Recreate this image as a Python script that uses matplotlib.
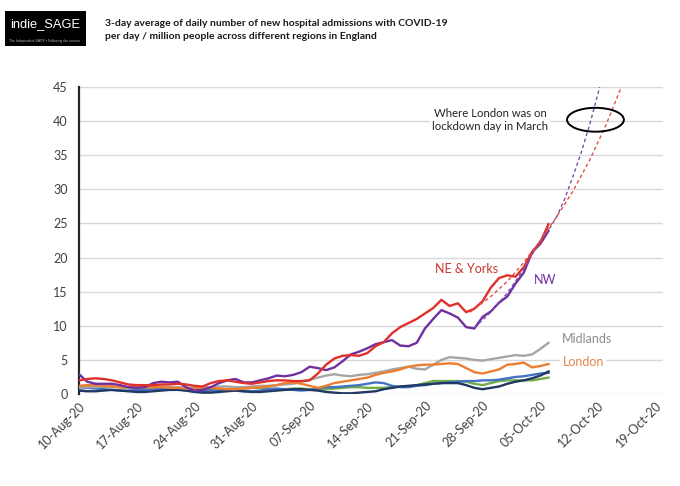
import numpy as np
import matplotlib
matplotlib.use('Agg')
import matplotlib.pyplot as plt
import matplotlib.dates as mdates
from matplotlib.patches import Ellipse, Rectangle

# daily values, 10-Aug-20 .. 06-Oct-20
start = np.datetime64('2020-08-10')

ne_yorks = [2.0, 2.2, 2.3, 2.2, 2.0, 1.7, 1.4, 1.3, 1.3, 1.3, 1.4, 1.4, 1.5, 1.4, 1.2, 1.1,
            1.6, 1.9, 2.0, 1.8, 1.6, 1.5, 1.7, 1.9, 2.0, 2.0, 1.9, 1.9, 2.0, 3.0, 4.3, 5.2,
            5.6, 5.7, 5.6, 6.0, 7.0, 7.6, 8.9, 9.8, 10.4, 11.0, 11.8, 12.6, 13.8, 12.9, 13.3,
            12.0, 12.5, 13.6, 15.6, 17.0, 17.4, 17.2, 18.6, 20.8, 22.2, 24.9]
nw = [2.9, 1.8, 1.5, 1.5, 1.5, 1.3, 1.0, 0.9, 1.0, 1.6, 1.8, 1.7, 1.8, 1.0, 0.5, 0.6,
      1.0, 1.6, 2.0, 2.2, 1.7, 1.7, 2.0, 2.3, 2.7, 2.6, 2.8, 3.2, 4.0, 3.8, 3.5, 3.9,
      4.8, 5.8, 6.2, 6.7, 7.3, 7.6, 7.9, 7.1, 7.0, 7.5, 9.6, 11.0, 12.3, 11.8, 11.2,
      9.8, 9.6, 11.3, 12.1, 13.4, 14.3, 16.2, 17.8, 20.8, 22.0, 23.9]
midlands = [0.9, 1.0, 1.0, 1.1, 1.0, 1.0, 0.9, 0.9, 1.0, 1.0, 1.1, 1.0, 1.0, 0.9, 0.9, 1.0,
            1.0, 1.1, 1.1, 1.0, 1.0, 1.1, 1.2, 1.2, 1.3, 1.4, 1.5, 1.8, 2.1, 2.4, 2.7, 2.9,
            2.7, 2.6, 2.8, 2.9, 3.1, 3.3, 3.6, 3.8, 4.0, 3.7, 3.6, 4.3, 5.0, 5.4, 5.3,
            5.2, 5.0, 4.9, 5.1, 5.3, 5.5, 5.7, 5.6, 5.8, 6.6, 7.5]
london = [1.2, 1.3, 1.3, 1.2, 1.1, 1.0, 1.0, 1.1, 1.0, 1.0, 1.0, 0.9, 0.9, 0.8, 0.8, 0.8,
          0.9, 0.8, 0.7, 0.7, 0.8, 0.9, 1.0, 1.1, 1.3, 1.6, 1.7, 1.5, 1.2, 0.9, 1.2, 1.6,
          1.8, 2.0, 2.2, 2.4, 2.8, 3.1, 3.3, 3.6, 4.0, 4.2, 4.3, 4.3, 4.4, 4.5, 4.4,
          3.8, 3.2, 3.0, 3.3, 3.6, 4.3, 4.4, 4.6, 3.9, 4.1, 4.4]
east = [0.8, 0.9, 0.8, 0.7, 0.6, 0.5, 0.5, 0.6, 0.6, 0.7, 0.7, 0.8, 0.7, 0.5, 0.4, 0.4,
        0.5, 0.5, 0.6, 0.5, 0.4, 0.4, 0.5, 0.7, 0.8, 0.7, 0.6, 0.5, 0.6, 0.8, 1.0, 1.0,
        1.1, 1.2, 1.3, 1.5, 1.7, 1.6, 1.2, 1.0, 1.0, 1.2, 1.3, 1.5, 1.6, 1.7, 1.8,
        1.9, 1.9, 2.0, 2.0, 2.1, 2.3, 2.5, 2.6, 2.8, 3.0, 3.1]
south_west = [1.0, 1.0, 0.9, 1.0, 1.1, 1.0, 0.9, 0.8, 0.8, 0.7, 0.8, 0.8, 0.9, 0.9, 0.8, 0.7,
              0.7, 0.6, 0.7, 0.8, 0.8, 0.9, 0.9, 0.8, 0.7, 0.7, 0.8, 0.8, 0.7, 0.6, 0.7, 0.8,
              0.9, 1.0, 1.0, 0.9, 0.9, 0.9, 1.0, 1.1, 1.1, 1.3, 1.6, 1.9, 1.9, 1.9, 1.9,
              1.8, 1.5, 1.3, 1.6, 1.9, 2.0, 2.0, 2.0, 2.0, 2.2, 2.4]
south_east = [0.5, 0.4, 0.4, 0.5, 0.6, 0.5, 0.4, 0.3, 0.3, 0.4, 0.5, 0.6, 0.6, 0.5, 0.3, 0.2,
              0.2, 0.3, 0.4, 0.5, 0.4, 0.3, 0.3, 0.4, 0.5, 0.6, 0.7, 0.7, 0.6, 0.5, 0.3, 0.2,
              0.1, 0.1, 0.2, 0.3, 0.4, 0.7, 0.9, 1.1, 1.2, 1.3, 1.4, 1.5, 1.6, 1.6, 1.6,
              1.3, 0.9, 0.7, 0.9, 1.1, 1.5, 1.8, 2.0, 2.3, 2.7, 3.3]

# trend lines (day offset, value)
nw_trend_day = [48, 50, 52, 54, 56, 57, 58, 59, 60, 61, 62, 63, 63.6]
nw_trend_val = [9.7, 12.0, 14.8, 18.3, 22.5, 24.0, 26.0, 28.7, 32.0, 35.5, 39.5, 44.0, 47.0]
ne_trend_day = [47.5, 50, 52, 54, 56, 58, 60, 62, 64, 66]
ne_trend_val = [12.0, 14.3, 16.5, 19.3, 22.5, 26.0, 29.8, 34.3, 39.5, 45.5]

tick_days = np.arange(0, 71, 7)

dates = start + np.arange(len(ne_yorks)).astype('timedelta64[D]')
x = mdates.date2num(dates.astype('datetime64[s]').astype(object))
x0 = x[0]

plt.rcParams['font.family'] = ['Lato', 'DejaVu Sans']

fig = plt.figure(figsize=(6.8, 4.86), dpi=100)
ax = fig.add_axes([79 / 680, 1 - 394 / 486, (663 - 79) / 680, (394 - 87) / 486])

series = [
    (south_west, '#70AD47'),
    (east, '#4472C4'),
    (south_east, '#203864'),
    (midlands, '#A5A5A5'),
    (london, '#ED7D31'),
    (nw, '#7030A0'),
    (ne_yorks, '#E0302A'),
]
for vals, col in series:
    ax.plot(x, vals, color=col, lw=1.7, solid_joinstyle='round', zorder=3)

ax.plot(x0 + np.array(nw_trend_day), nw_trend_val, color='#7B4FA8', lw=1.0,
        dashes=(2.5, 2), zorder=4)
ax.plot(x0 + np.array(ne_trend_day), ne_trend_val, color='#E0504A', lw=1.0,
        dashes=(2.5, 2), zorder=4)

ax.set_ylim(0, 45)
ax.set_xlim(x0, x0 + 70.9)
ax.set_yticks(range(0, 46, 5))
ax.set_xticks(x0 + tick_days)
ax.xaxis.set_major_formatter(mdates.DateFormatter('%d-%b-%y'))
ax.grid(axis='y', color='#D9D9D9', lw=1.0, zorder=0)
ax.set_axisbelow(True)
for s in ['top', 'right', 'bottom']:
    ax.spines[s].set_visible(False)
ax.spines['left'].set_color('#262626')
ax.spines['left'].set_linewidth(1.6)
ax.tick_params(axis='y', length=0, labelsize=9, colors='#404040', pad=8)
ax.tick_params(axis='x', length=0, labelsize=9, colors='#404040', pad=4)
plt.setp(ax.get_xticklabels(), rotation=45, ha='right', rotation_mode='anchor')

white = dict(facecolor='white', edgecolor='none', pad=1.5)
ax.text(x0 + 49.9, 40.2, 'Where London was on\nlockdown day in March', fontsize=8.2,
        color='#262626', ha='center', va='center', linespacing=1.25, bbox=white, zorder=5)
ax.add_patch(Ellipse((x0 + 62.7, 40.2), 6.9, 3.5, fill=False, edgecolor='black',
                     lw=1.4, zorder=6))
ax.text(x0 + 47.0, 18.3, 'NE & Yorks', fontsize=9, color='#C8352C', ha='center',
        va='center', zorder=5)
ax.text(x0 + 56.6, 16.7, 'NW', fontsize=9, color='#7030A0', ha='center', va='center', zorder=5)
ax.text(x0 + 61.7, 8.1, 'Midlands', fontsize=9, color='#8C8C8C', ha='center', va='center',
        bbox=white, zorder=5)
ax.text(x0 + 61.2, 4.7, 'London', fontsize=9, color='#E3874A', ha='center', va='center',
        bbox=white, zorder=5)

# header
fig.patches.append(Rectangle((5 / 680, 1 - 46 / 486), 81 / 680, 35 / 486,
                             transform=fig.transFigure, facecolor='black', edgecolor='none'))
fig.text(45 / 680, 1 - 24 / 486, 'indie_SAGE', color='white', fontsize=9.3,
         family='Liberation Sans', ha='center', va='center')
fig.text(45 / 680, 1 - 41 / 486, 'The Independent SAGE \u2022 Following the science',
         color='#BBBBBB', fontsize=2.4, family='Liberation Sans', ha='center', va='center')
fig.text(105 / 680, 1 - 30 / 486,
         '3-day average of daily number of new hospital admissions with COVID-19\n'
         'per day / million people across different regions in England',
         fontsize=7.5, fontweight='bold', color='#1A1A1A', ha='left', va='center',
         linespacing=1.55)

fig.savefig('out.png', dpi=100)
